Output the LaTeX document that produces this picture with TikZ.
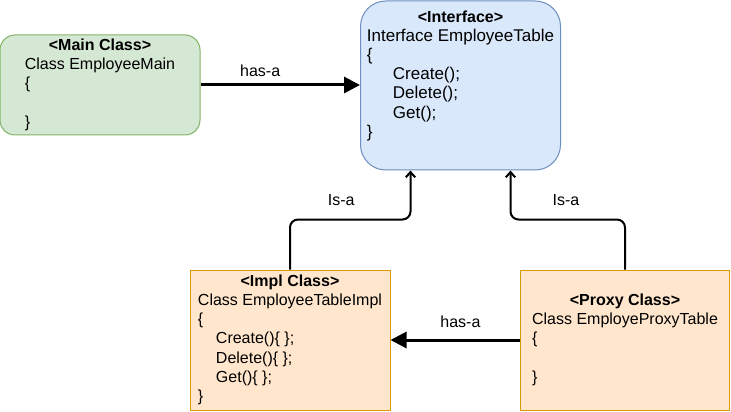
\documentclass[tikz,border=0pt]{standalone}
\usepackage{fontspec}
\setmainfont{Liberation Sans}
\usetikzlibrary{arrows.meta,calc}

\definecolor{mainfill}{HTML}{D5E8D4}
\definecolor{mainline}{HTML}{82B366}
\definecolor{ifacefill}{HTML}{DAE8FC}
\definecolor{ifaceline}{HTML}{6C8EBF}
\definecolor{classfill}{HTML}{FFE6CC}
\definecolor{classline}{HTML}{D79B00}

% bold title centred over left aligned lines
\newcommand{\classtext}[2]{\begin{tabular}{@{}l@{}}\multicolumn{1}{@{}c@{}}{\textbf{#1}}\\ #2\end{tabular}}

\begin{document}
\begin{tikzpicture}[x=0.75pt,y=0.75pt,
    box/.style={draw,line width=0.75pt,inner sep=0pt,font=\fontsize{12}{14.4}\selectfont},
    mainbox/.style={box,fill=mainfill,draw=mainline,rounded corners=11.25pt,minimum width=150pt,minimum height=75pt},
    ifacebox/.style={box,fill=ifacefill,draw=ifaceline,rounded corners=19pt,minimum width=150pt,minimum height=126.75pt},
    classbox/.style={box,fill=classfill,draw=classline,minimum height=105pt},
    hasa/.style={line width=2.25pt,-{Triangle[length=12pt,width=12pt]}},
    isa/.style={line width=1.5pt,rounded corners=6pt,-{Straight Barb[length=4pt,width=7pt]}},
    lbl/.style={inner sep=0pt,font=\fontsize{12}{14.4}\selectfont}]
        \useasboundingbox (0,0) rectangle (731,411);

        \node[mainbox] at (100,326) (main){\classtext{<Main Class>}{Class EmployeeMain\\ \{\\ \mbox{}\\ \}}};
        \node[ifacebox] at (460.5,325.5) (iface){\classtext{<Interface>}{\fontsize{12.75}{14.6}\selectfont Interface EmployeeTable\\
            \fontsize{12.75}{14.6}\selectfont \{\\
            \fontsize{12.75}{14.6}\selectfont \hspace*{19.5pt}Create();\\
            \fontsize{12.75}{14.6}\selectfont \hspace*{19.5pt}Delete();\\
            \fontsize{12.75}{14.6}\selectfont \hspace*{19.5pt}Get();\\
            \fontsize{12.75}{14.6}\selectfont \}\\ \mbox{}}};
        \node[classbox,minimum width=150pt] at (290,71) (impl){\classtext{<Impl Class>}{Class EmployeeTableImpl\\ \{\\
            \hspace*{13.5pt}Create()\{ \};\\ \hspace*{13.5pt}Delete()\{ \};\\ \hspace*{13.5pt}Get()\{ \};\\ \}}};
        \node[classbox,minimum width=156.75pt] at (625,71) (proxy){\classtext{<Proxy Class>}{Class EmployeProxyTable\\ \{\\ \mbox{}\\ \}}};

        \draw[hasa] (main.east) -- node[lbl,pos=0.374,above=5.35pt]{has-a} (main.east -| iface.west); %main-iface
        \draw[hasa] (proxy.west) -- node[lbl,pos=0.46,above=8.35pt]{has-a} (proxy.west -| impl.east); %proxy-impl
        \draw[isa] (impl.north) -- ++(0,50) -| node[lbl,pos=0.2125,above=9.3pt]{Is-a} ($(iface.south)+(-50,0)$); %impl-iface
        \draw[isa] (proxy.north) -- ++(0,50) -| node[lbl,pos=0.258,above=9.3pt]{Is-a} ($(iface.south)+(50,0)$); %proxy-iface
    \end{tikzpicture}
\end{document}
